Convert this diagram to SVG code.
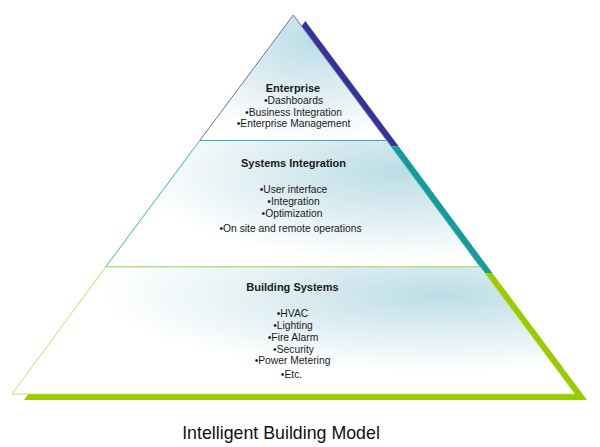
<svg xmlns="http://www.w3.org/2000/svg" width="600" height="447" viewBox="0 0 600 447">
  <defs>
    <radialGradient id="gTop" cx="0.6" cy="0.2" r="0.8" fx="0.6" fy="0.2">
      <stop offset="0" stop-color="#bcdde6"/>
      <stop offset="0.55" stop-color="#e0eff3"/>
      <stop offset="1" stop-color="#ffffff"/>
    </radialGradient>
    <radialGradient id="gMid" cx="0.78" cy="0.25" r="0.7" fx="0.78" fy="0.25">
      <stop offset="0" stop-color="#bcdde6"/>
      <stop offset="0.6" stop-color="#e4f1f4"/>
      <stop offset="1" stop-color="#ffffff"/>
    </radialGradient>
    <radialGradient id="gBot" cx="0.76" cy="0.22" r="0.6" fx="0.76" fy="0.22">
      <stop offset="0" stop-color="#bcdde6"/>
      <stop offset="0.6" stop-color="#e6f2f5"/>
      <stop offset="1" stop-color="#ffffff"/>
    </radialGradient>
  </defs>
  <style>
    text { font-family: "Liberation Sans", Arial, sans-serif; fill: #1a1a1a; text-anchor: middle; }
    .t { font-size: 11px; font-weight: bold; }
    .b { font-size: 10.3px; }
    .cap { font-size: 17.8px; fill: #111111; }
  </style>
  <rect width="600" height="447" fill="#ffffff"/>

  <!-- shadow bands -->
  <g id="shadow">
    <polygon points="305.3,21 398.8,146.5 211.8,146.5" fill="#333399"/>
    <polygon points="211.8,146.5 398.8,146.5 492.3,273 117.6,273" fill="#159b9b"/>
    <polygon points="117.6,273 492.3,273 587,400 24,400" fill="#99cc00"/>
  </g>

  <!-- layers -->
  <g id="enterprise">
    <polygon points="293.3,15 386.8,140.5 199.8,140.5" fill="url(#gTop)" stroke="#6f6fae" stroke-width="1"/>
    <text class="t" x="293" y="92">Enterprise</text>
    <text class="b" x="293.5" y="104">•Dashboards</text>
    <text class="b" x="293.5" y="115.5">•Business Integration</text>
    <text class="b" x="293.5" y="127">•Enterprise Management</text>
  </g>
  <g id="systems-integration">
    <polygon points="199.8,140.5 386.8,140.5 480.3,267 105.6,267" fill="url(#gMid)" stroke="#3fb0b0" stroke-width="1"/>
    <text class="t" x="293.5" y="167">Systems Integration</text>
    <text class="b" x="293.5" y="193">•User interface</text>
    <text class="b" x="293.5" y="205">•Integration</text>
    <text class="b" x="292" y="217">•Optimization</text>
    <text class="b" x="290.5" y="232">•On site and remote operations</text>
  </g>
  <g id="building-systems">
    <polygon points="105.6,267 480.3,267 575,394 12,394" fill="url(#gBot)" stroke="#c6de66" stroke-width="1"/>
    <text class="t" x="292.5" y="291">Building Systems</text>
    <text class="b" x="292.5" y="317">•HVAC</text>
    <text class="b" x="293" y="328.5">•Lighting</text>
    <text class="b" x="293" y="340.5">•Fire Alarm</text>
    <text class="b" x="293.5" y="352.5">•Security</text>
    <text class="b" x="292.5" y="364">•Power Metering</text>
    <text class="b" x="291.5" y="377.5">•Etc.</text>
  </g>

  <g id="caption">
    <text class="cap" x="281" y="439">Intelligent Building Model</text>
  </g>
</svg>
